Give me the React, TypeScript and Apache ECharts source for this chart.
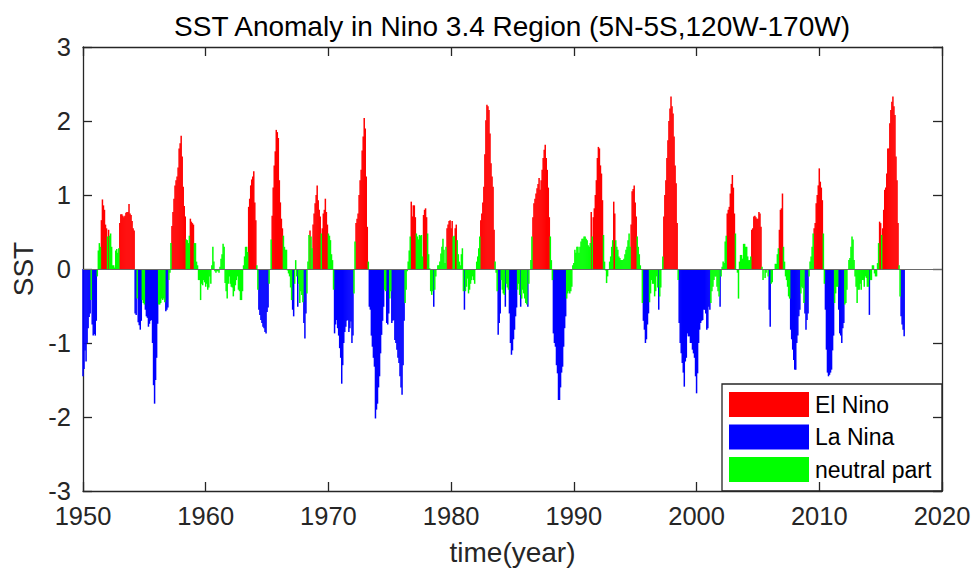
import React, { useEffect, useRef } from "react";
import * as echarts from "echarts";

// Monthly Nino 3.4 SST anomaly, Jan 1950 - Dec 2016
const START_YEAR = 1950;

const sst1950s = [
  -1.45, -1.35, -1.1, -1.25, -1.0, -0.8, -0.65, -0.6, -0.42, -0.75, -0.9, -0.88,
  -0.9, -0.7, -0.1, 0.25, 0.35, 0.3, 0.66, 0.94, 0.86, 0.8, 0.6, 0.55,
  0.44, 0.53, 0.45, 0.48, 0.3, 0.05, 0.05, 0.02, 0.25, 0.27, 0.22, 0.28,
  0.62, 0.74, 0.74, 0.72, 0.7, 0.72, 0.76, 0.77, 0.77, 0.88, 0.75, 0.73,
  0.65, 0.55, 0.52, -0.6, -0.62, -0.4, -0.72, -0.76, -0.82, -0.7, -0.42, -0.46,
  -0.48, -0.55, -0.64, -0.66, -0.78, -0.74, -0.7, -0.69, -1.0, -1.57, -1.82, -1.5,
  -1.2, -0.74, -0.48, -0.48, -0.46, -0.4, -0.42, -0.4, -0.45, -0.57, -0.55, -0.52,
  -0.15, -0.05, 0.35, 0.58, 0.77, 0.95, 1.13, 1.2, 1.25, 1.37, 1.63, 1.7,
  1.8, 1.52, 1.11, 0.85, 0.71, 0.4, 0.39, 0.35, 0.45, 0.68, 0.64, 0.62,
  0.6, 0.35, 0.35, 0.1, 0.05, -0.15, -0.15, -0.42, -0.2, -0.22, -0.15, -0.18,
];

const sst1960s = [
  -0.24, -0.2, -0.28, -0.25, -0.1, -0.2, 0.05, 0.3, 0.1, -0.03, -0.05, -0.03,
  -0.03, -0.05, 0.03, 0.14, 0.2, 0.34, 0.3, -0.19, -0.3, -0.4, -0.2, -0.1,
  -0.2, -0.24, -0.25, -0.37, -0.3, -0.22, -0.15, -0.1, -0.28, -0.3, -0.42, -0.42,
  -0.3, 0.05, 0.17, 0.3, 0.3, 0.23, 0.84, 0.95, 1.13, 1.21, 1.25, 1.32,
  0.9, 0.66, 0.05, -0.28, -0.55, -0.62, -0.69, -0.73, -0.78, -0.8, -0.85, -0.87,
  -0.58, -0.52, -0.2, 0.0, 0.4, 0.72, 1.1, 1.4, 1.59, 1.88, 1.85, 1.77,
  1.2, 0.9, 0.68, 0.55, 0.45, 0.3, 0.26, 0.26, -0.02, -0.06, -0.1, -0.25,
  -0.42, -0.55, -0.64, -0.2, 0.12, -0.1, -0.51, -0.2, -0.46, -0.3, -0.35, -0.45,
  -0.73, -0.94, -0.6, -0.33, 0.1, 0.46, 0.52, 0.44, 0.28, 0.6, 0.75, 0.89,
  1.0, 1.13, 0.93, 0.8, 0.71, 0.48, 0.55, 0.75, 0.8, 0.95, 0.77, 0.6,
];

const sst1970s = [
  0.48, 0.45, 0.39, 0.2, 0.12, -0.28, -0.87, -0.75, -0.69, -0.8, -0.9, -1.07,
  -1.2, -1.55, -1.3, -1.0, -0.85, -0.78, -0.7, -0.69, -0.85, -0.8, -0.71, -1.0,
  -0.9, -0.33, 0.37, 0.62, 0.68, 0.75, 1.0, 1.2, 1.34, 1.6, 1.79, 2.04,
  1.9, 1.25, 0.57, 0.1, -0.51, -0.55, -0.9, -1.05, -1.2, -1.32, -2.02, -1.9,
  -1.82, -1.6, -1.45, -1.14, -0.89, -0.7, -0.51, -0.28, -0.3, -0.73, -0.75, -0.6,
  -0.4, -0.3, -0.73, -0.7, -0.69, -0.96, -1.0, -1.09, -1.2, -1.27, -1.45, -1.6,
  -1.7, -1.3, -0.7, -0.46, -0.28, -0.03, 0.1, 0.25, 0.44, 0.91, 0.71, 0.86,
  0.86, 0.7, 0.48, 0.44, 0.4, 0.46, 0.45, 0.46, 0.17, 0.73, 0.8, 0.82,
  0.7, 0.48, 0.2, 0.01, -0.3, -0.35, -0.3, -0.51, -0.28, -0.1, 0.0, 0.05,
  0.05, 0.1, 0.21, 0.3, 0.41, 0.26, 0.08, 0.3, 0.55, 0.6, 0.65, 0.66,
];

const sst1980s = [
  0.55, 0.65, 0.44, 0.45, 0.55, 0.6, 0.39, 0.2, 0.1, 0.05, 0.2, 0.28,
  -0.3, -0.55, -0.3, -0.24, -0.13, -0.33, -0.28, -0.2, -0.15, -0.1, -0.15, -0.2,
  0.0, 0.1, 0.17, 0.28, 0.44, 0.66, 0.75, 0.9, 1.11, 1.55, 2.01, 2.22,
  2.2, 2.15, 1.83, 1.43, 1.25, 1.11, 0.53, 0.1, -0.05, -0.3, -0.89, -0.73,
  -0.6, -0.15, -0.28, -0.33, -0.35, -0.51, -0.2, -0.25, -0.28, -0.6, -1.0, -1.16,
  -1.1, -0.95, -0.82, -0.64, -0.52, -0.28, -0.2, -0.35, -0.51, -0.4, -0.28, -0.33,
  -0.4, -0.46, -0.48, -0.51, -0.2, 0.0, 0.12, 0.44, 0.7, 0.89, 0.95, 1.02,
  1.09, 1.15, 1.23, 1.07, 1.2, 1.34, 1.5, 1.61, 1.68, 1.5, 1.34, 1.1,
  0.7, 0.44, 0.12, -0.15, -0.87, -1.0, -1.05, -1.3, -1.41, -1.77, -1.77, -1.6,
  -1.4, -1.32, -1.05, -0.8, -0.64, -0.4, -0.33, -0.3, -0.33, -0.3, -0.24, 0.05,
];

const sst1990s = [
  0.08, 0.26, 0.22, 0.3, 0.3, 0.22, 0.3, 0.37, 0.41, 0.41, 0.44, 0.44,
  0.41, 0.39, 0.32, 0.3, 0.35, 0.77, 0.44, 0.7, 0.82, 1.0, 1.2, 1.5,
  1.65, 1.63, 1.4, 1.29, 0.93, 0.46, 0.1, -0.02, -0.19, -0.1, 0.0, 0.1,
  0.17, 0.3, 0.39, 0.91, 0.75, 0.39, 0.3, 0.26, 0.17, 0.15, 0.12, 0.12,
  0.12, 0.14, 0.2, 0.26, 0.3, 0.39, 0.48, 0.3, 0.6, 1.05, 1.08, 1.13,
  0.9, 0.71, 0.44, 0.3, 0.2, 0.05, 0.0, -0.46, -0.7, -0.82, -1.0, -0.95,
  -0.75, -0.6, -0.45, -0.33, -0.15, -0.2, -0.2, -0.37, -0.3, -0.1, -0.25, -0.55,
  -0.37, -0.25, 0.0, 0.17, 0.71, 1.0, 1.2, 1.5, 1.74, 2.0, 2.17, 2.33,
  2.2, 2.1, 1.79, 1.4, 1.16, 0.62, -0.15, -0.73, -1.0, -1.14, -1.27, -1.4,
  -1.59, -1.25, -1.2, -0.87, -0.91, -0.91, -1.0, -1.0, -1.09, -1.14, -1.2, -1.45,
];

const sst2000s = [
  -1.68, -1.41, -1.0, -0.82, -0.73, -0.7, -0.69, -0.55, -0.55, -0.6, -0.82, -0.8,
  -0.51, -0.55, -0.46, -0.3, -0.24, -0.15, -0.1, -0.1, -0.24, -0.3, -0.37, -0.51,
  -0.1, 0.03, 0.1, 0.08, 0.37, 0.45, 0.75, 0.8, 0.84, 1.02, 1.15, 1.27,
  1.1, 0.75, 0.48, 0.0, -0.05, -0.4, 0.1, 0.19, 0.19, 0.14, 0.34, 0.34,
  0.3, 0.3, 0.17, 0.12, 0.12, 0.17, 0.53, 0.55, 0.71, 0.72, 0.7, 0.68,
  0.68, 0.77, 0.75, 0.57, 0.03, -0.15, 0.0, -0.12, -0.05, 0.0, -0.1, -0.55,
  -0.78, -0.2, -0.18, 0.0, 0.0, 0.07, 0.07, 0.2, 0.28, 0.53, 0.8, 0.82,
  1.02, 0.3, 0.1, -0.1, -0.15, -0.24, -0.37, -0.4, -0.82, -0.95, -1.09, -1.23,
  -1.36, -1.36, -1.0, -0.9, -0.64, -0.55, -0.33, -0.24, -0.26, -0.46, -0.6, -0.82,
  -0.69, -0.6, -0.1, 0.1, 0.17, 0.3, 0.48, 0.55, 0.62, 0.89, 1.0, 1.13,
];

const sst2010s = [
  1.36, 1.18, 1.1, 0.93, 0.48, -0.2, -0.55, -1.09, -1.4, -1.45, -1.43, -1.4,
  -1.36, -1.1, -0.9, -0.46, -0.33, -0.24, -0.24, -0.55, -0.87, -0.9, -1.0, -0.8,
  -0.73, -0.48, -0.46, -0.28, 0.0, 0.12, 0.15, 0.3, 0.44, 0.4, 0.12, -0.1,
  -0.24, -0.46, -0.28, -0.28, -0.2, -0.28, -0.15, -0.15, -0.24, -0.1, -0.12, -0.24,
  -0.24, -0.62, -0.15, -0.15, 0.05, 0.05, -0.06, -0.1, -0.1, 0.08, 0.35, 0.64,
  0.62, 0.46, 0.55, 0.8, 1.07, 1.1, 1.29, 1.63, 1.63, 1.97, 2.15, 2.26,
  2.33, 2.2, 2.08, 1.52, 1.2, 0.62, 0.05, -0.37, -0.64, -0.75, -0.82, -0.91,
];

const THRESHOLD = 0.5;
const xTicks = { min: 1950, max: 2020, interval: 10 };
const yTicks = { min: -3, max: 3, interval: 1 };
const legendLabels = ["El Nino", "La Nina", "neutral part"];
const titleText = "SST Anomaly in Nino 3.4 Region (5N-5S,120W-170W)";

const FONT = "'Liberation Sans', Arial, Helvetica, sans-serif";
const AX = "#262626";
const COLORS = ["#ff0000", "#0000ff", "#00ff00"];

function buildSeriesData() {
  const all = [...sst1950s, ...sst1960s, ...sst1970s, ...sst1980s, ...sst1990s, ...sst2000s, ...sst2010s];
  const elNino: number[][] = [];
  const laNina: number[][] = [];
  const neutral: number[][] = [];
  all.forEach((v, i) => {
    const t = START_YEAR + i / 12;
    if (v >= THRESHOLD) elNino.push([t, v]);
    else if (v <= -THRESHOLD) laNina.push([t, v]);
    else neutral.push([t, v]);
  });
  return [elNino, laNina, neutral];
}

export default function App() {
  const ref = useRef<HTMLDivElement>(null);
  useEffect(() => {
    if (!ref.current) return;
    const chart = echarts.init(ref.current, null, { renderer: "svg" });
    const [elNino, laNina, neutral] = buildSeriesData();
    const barCommon = {
      type: "bar",
      barWidth: 1.5,
      barGap: "-100%",
      xAxisIndex: 0,
      yAxisIndex: 0,
      silent: true,
    };
    const axisLine = { show: true, onZero: false, lineStyle: { color: AX, width: 1.3 } };
    const axisTick = { show: true, inside: true, length: 9, lineStyle: { color: AX, width: 1.3 } };
    const grid = { left: 83, right: 33, top: 47, bottom: 85 };
    const legendTop = 384;
    const legendLeft = 722;
    const plain = (v: number) => String(v);
    const option = {
      animation: false,
      backgroundColor: "#ffffff",
      grid,
      xAxis: [
        {
          type: "value",
          ...xTicks,
          position: "bottom",
          axisLine,
          axisTick,
          splitLine: { show: false },
          axisLabel: { fontSize: 25.5, color: AX, margin: 12, fontFamily: FONT, formatter: plain },
          name: "time(year)",
          nameLocation: "middle",
          nameGap: 47,
          nameTextStyle: { fontSize: 28, color: AX, fontFamily: FONT },
        },
        {
          type: "value",
          ...xTicks,
          position: "top",
          axisLine,
          axisTick,
          splitLine: { show: false },
          axisLabel: { show: false },
        },
      ],
      yAxis: [
        {
          type: "value",
          ...yTicks,
          position: "left",
          axisLine,
          axisTick,
          splitLine: { show: false },
          axisLabel: { fontSize: 25.5, color: AX, margin: 12, fontFamily: FONT, formatter: plain },
          name: "SST",
          nameLocation: "middle",
          nameRotate: 90,
          nameGap: 35,
          nameTextStyle: { fontSize: 28, color: AX, fontFamily: FONT },
        },
        {
          type: "value",
          ...yTicks,
          position: "right",
          axisLine,
          axisTick,
          splitLine: { show: false },
          axisLabel: { show: false },
        },
      ],
      series: [
        { ...barCommon, name: legendLabels[0], data: elNino, itemStyle: { color: COLORS[0] } },
        { ...barCommon, name: legendLabels[1], data: laNina, itemStyle: { color: COLORS[1] } },
        {
          ...barCommon,
          name: legendLabels[2],
          data: neutral,
          itemStyle: { color: COLORS[2] },
          markLine: {
            silent: true,
            symbol: "none",
            label: { show: false },
            lineStyle: { color: "#6a6a6a", width: 1, type: "solid" },
            data: [{ yAxis: 0 }],
          },
        },
      ],
      graphic: [
        {
          type: "text",
          x: 512,
          y: 26,
          style: {
            text: titleText,
            font: `28px ${FONT}`,
            fill: "#000000",
            textAlign: "center",
            textVerticalAlign: "middle",
          },
        },
        {
          type: "group",
          x: legendLeft,
          y: legendTop,
          children: [
            {
              type: "rect",
              shape: { x: 0, y: 0, width: 220, height: 107 },
              style: { fill: "#ffffff", stroke: AX, lineWidth: 1.3 },
            },
            ...legendLabels.flatMap((label, i) => [
              {
                type: "rect",
                shape: { x: 7, y: 8 + i * 32.5, width: 80, height: 25 },
                style: { fill: COLORS[i] },
              },
              {
                type: "text",
                x: 93,
                y: 20.5 + i * 32.5,
                style: {
                  text: label,
                  font: `23px ${FONT}`,
                  fill: "#000000",
                  textVerticalAlign: "middle",
                },
              },
            ]),
          ],
        },
      ],
    };
    chart.setOption(option as any);
    return () => chart.dispose();
  }, []);
  return (
    <div
      ref={ref}
      style={{ position: "fixed", left: 0, top: 0, width: 975, height: 576, background: "#ffffff" }}
    />
  );
}
